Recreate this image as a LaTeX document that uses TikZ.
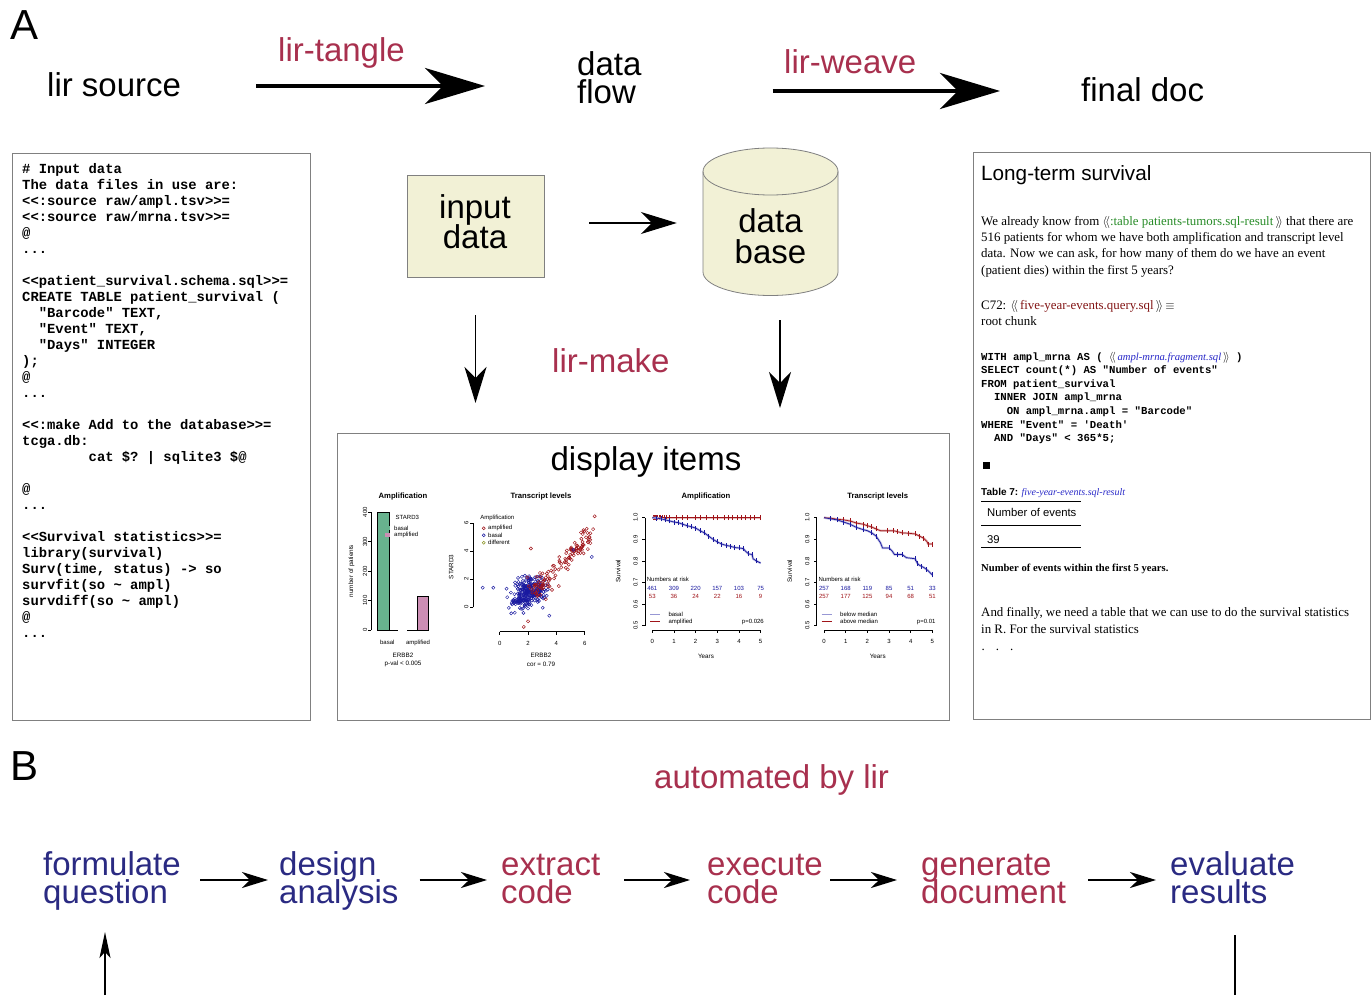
\documentclass[tikz,border=0pt]{standalone}
\usepackage{fontspec}
\setmainfont{Liberation Serif}
\setsansfont{Liberation Sans}
\setmonofont{Liberation Mono}
\usetikzlibrary{arrows.meta}
\definecolor{lirred}{RGB}{168,48,78}
\definecolor{lirblue}{RGB}{42,42,130}
\definecolor{beige}{RGB}{242,241,214}
\definecolor{framegray}{RGB}{128,128,128}
\definecolor{bargreen}{RGB}{104,178,142}
\definecolor{barpink}{RGB}{204,142,180}
\definecolor{pred}{RGB}{160,20,25}
\definecolor{pblue}{RGB}{25,25,160}
\definecolor{polive}{RGB}{140,150,40}
\definecolor{docgreen}{RGB}{40,140,40}
\definecolor{docred}{RGB}{130,20,20}
\definecolor{docblue}{RGB}{40,40,200}
\newcommand\setfs[2]{\fontsize{#1}{#2}\selectfont\lineskiplimit=-100pt\relax}
\newcommand\dlb{\ensuremath{\langle\!\langle}}
\newcommand\drb{\ensuremath{\rangle\!\rangle}}
\newcommand\ctrline[1]{\hbox to 0pt{\hss#1\hss}}
\begin{document}
\begin{tikzpicture}[x=1pt,y=-1pt,
  bigtxt/.style={font=\sffamily\setfs{33}{28}, inner sep=0, anchor=base west},
  boxframe/.style={draw=framegray, line width=1.1pt, inner sep=0, anchor=north west},
  bigarr/.style={line width=4pt, -{Stealth[length=60pt,width=36pt,inset=18pt]}},
  midarr/.style={line width=2pt, -{Stealth[length=36pt,width=22pt,inset=11pt]}},
  steparr/.style={line width=2pt, -{Stealth[length=26pt,width=16pt,inset=8pt]}},
  looparr/.style={line width=1.5pt, -{Stealth[length=26pt,width=11pt,inset=6pt]}},
  ptitle/.style={font=\sffamily\bfseries\setfs{7.7}{8}, inner sep=0},
  plab/.style={font=\sffamily\setfs{6.3}{7}, inner sep=0},
  ptick/.style={font=\sffamily\setfs{6}{7}, inner sep=0},
  paxis/.style={line width=0.5pt},
  doctxt/.style={anchor=base west, inner sep=0},
]
\useasboundingbox (0,0) rectangle (1372,995);
\fill[white] (0,0) rectangle (1372,995);

% ---------------- A: top row ----------------
\node[bigtxt, font=\sffamily\setfs{42}{42}] (labA) at (10,40) {A};
\node[bigtxt] (src) at (47,97) {lir source};
\node[bigtxt, text=lirred] (tangle) at (278,62) {lir-tangle};
\node[bigtxt] (flow) at (577,76) {\vtop{\hbox{data}\hbox{flow}}};
\node[bigtxt, text=lirred] (weave) at (784,74) {lir-weave};
\node[bigtxt] (final) at (1081,102) {final doc};
\draw[bigarr, shorten <=75pt, shorten >=92pt] (src.east |- 0,86) -- (flow.west |- 0,86);
\draw[bigarr, shorten <=131pt, shorten >=81pt] (flow.east |- 0,91) -- (final.west |- 0,91);

% ---------------- left code box ----------------
\node[boxframe, minimum width=298pt, minimum height=567pt] (codebox) at (12,153) {};
\node[doctxt, font=\ttfamily\bfseries\setfs{13.85}{16}] (code) at (22,173.5) {\vtop{%
\hbox{\# Input data}
\hbox{The data files in use are:}
\hbox{<<:source raw/ampl.tsv>>=}
\hbox{<<:source raw/mrna.tsv>>=}
\hbox{@}
\hbox{...}
\hbox{}
\hbox{<<patient\_survival.schema.sql>>=}
\hbox{CREATE TABLE patient\_survival (}
\hbox{\ \ "Barcode" TEXT,}
\hbox{\ \ "Event" TEXT,}
\hbox{\ \ "Days" INTEGER}
\hbox{);}
\hbox{@}
\hbox{...}
\hbox{}
\hbox{<<:make Add to the database>>=}
\hbox{tcga.db:}
\hbox{\ \ \ \ \ \ \ \ cat \$? | sqlite3 \$@}
\hbox{}
\hbox{@}
\hbox{...}
\hbox{}
\hbox{<<Survival statistics>>=}
\hbox{library(survival)}
\hbox{Surv(time, status) -> so}
\hbox{survfit(so \textasciitilde{} ampl)}
\hbox{survdiff(so \textasciitilde{} ampl)}
\hbox{@}
\hbox{...}}};

% ---------------- middle: data flow ----------------
\node[draw=framegray, fill=beige, line width=0.8pt, minimum width=137pt, minimum height=102pt, inner sep=0] (inp) at (475.5,226) {};
\node[bigtxt, anchor=base, font=\sffamily\setfs{33}{30}] (inptxt) at (475,218) {\vtop{\ctrline{input}\ctrline{data}}};
\node[minimum width=135pt, minimum height=148pt, inner sep=0] (db) at (770.5,222) {};
\filldraw[fill=beige, draw=framegray, line width=0.8pt] (703,171.5) -- (703,272)
  arc[start angle=180, end angle=360, x radius=67.5pt, y radius=23.5pt] -- (838,171.5)
  arc[start angle=0, end angle=180, x radius=67.5pt, y radius=23.5pt] -- cycle;
\draw[framegray, line width=0.8pt] (703,171.5) arc[start angle=180, end angle=360, x radius=67.5pt, y radius=23.5pt];
\node[bigtxt, anchor=base, font=\sffamily\setfs{33}{31}] (dbtxt) at (770.5,232) {\vtop{\ctrline{data}\ctrline{base}}};
\draw[midarr, shorten <=45pt, shorten >=26pt] (inp.east |- 0,223) -- (db.west |- 0,223);
\node[bigtxt, text=lirred] (make) at (552,372) {lir-make};

% display box
\node[boxframe, minimum width=612pt, minimum height=287pt] (disp) at (337,433) {};
\node[bigtxt, anchor=base] (dispt) at (646,470) {display items};
\draw[midarr, line width=1.7pt, shorten <=38pt, shorten >=30pt] (inp.south) -- (inp.south |- disp.north);
\draw[midarr, line width=1.7pt, shorten <=24pt, shorten >=25pt] (db.south -| 780,0) -- (disp.north -| 780,0);

% ---- plot 1: bar chart ----
\node[ptitle] (pat) at (403,496.7) {Amplification};
\draw[paxis] (371,630) -- (371,512.3);
\foreach \v/\yy in {0/630,100/600.6,200/571.2,300/541.7,400/512.3}{
  \draw[paxis] (371,\yy) -- (368,\yy);
  \node[ptick, rotate=90] (pay\v) at (365,\yy) {\v};
}
\node[plab, rotate=90] (payl) at (351.5,571) {number of patients};
\filldraw[fill=bargreen, draw=black, line width=0.5pt] (377,630) rectangle (389,512.3);
\draw[line width=0.5pt] (389,630) -- (398,630);
\draw[line width=0.5pt] (407,630) -- (417,630);
\filldraw[fill=barpink, draw=black, line width=0.5pt] (417,630) rectangle (428,596.3);
\node[ptick] (pab1) at (387.3,642.7) {basal};
\node[ptick] (pab2) at (418,642.7) {amplified};
\node[plab] (pax1) at (403,655.7) {ERBB2};
\node[plab] (pax2) at (403,664.3) {p-val < 0.005};
\node[ptick] (pal0) at (407.3,517.7) {STARD3};
\fill[bargreen] (384.5,526.3) rectangle (389.5,530.3);
\node[ptick, anchor=west] (pal1) at (394,528.3) {basal};
\fill[barpink] (384.5,533) rectangle (389.5,537);
\node[ptick, anchor=west] (pal2) at (394,535) {amplified};

% ---- plot 2: scatter ----
\node[ptitle] (pbt) at (541,496.7) {Transcript levels};
\draw[paxis] (473,607.3) -- (473,523.3);
\foreach \v/\yy in {0/607.3,2/579.3,4/551.3,6/523.3}{
  \draw[paxis] (473,\yy) -- (470,\yy);
  \node[ptick, rotate=90] (pby\v) at (466.3,\yy) {\v};
}
\node[plab, rotate=90] (pbyl) at (451.3,567) {STARD3};
\draw[paxis] (499.7,631.7) -- (584.7,631.7);
\foreach \v/\xx in {0/499.7,2/528,4/556.4,6/584.7}{
  \draw[paxis] (\xx,631.7) -- (\xx,634.7);
  \node[ptick] (pbx\v) at (\xx,643.3) {\v};
}
\node[plab] (pbxl) at (541,655.7) {ERBB2};
\node[plab] (pbxl2) at (541,664.3) {cor = 0.79};
\node[ptick] (pbl0) at (497.3,518.3) {Amplification};
\draw[pred, line width=0.5pt] (483.7,528.3) circle[radius=1.5pt];
\node[ptick, anchor=west] (pbl1) at (488,528.3) {amplified};
\draw[pblue, line width=0.5pt] (483.7,535.3) circle[radius=1.5pt];
\node[ptick, anchor=west] (pbl2) at (488,535.3) {basal};
\draw[polive, line width=0.5pt] (483.7,542.7) circle[radius=1.5pt];
\node[ptick, anchor=west] (pbl3) at (488,542.7) {different};
\begin{scope}[shift={(499.7pt,-607.3pt)}, x=14.17pt, y=14pt]
  \pgfmathsetseed{4242}
  \foreach \i in {1,...,250}{
    \pgfmathsetmacro\X{2.0+0.62*(rand+rand+rand)}
    \pgfmathsetmacro\Y{0.35+0.33*\X+0.55*(rand+rand+rand)}
    \draw[pblue, line width=0.45pt] (\X,\Y) circle[radius=1.6pt];
  }
  \foreach \i in {1,...,55}{
    \pgfmathsetmacro\X{3.0+0.5*(rand+rand+rand)}
    \pgfmathsetmacro\Y{0.3+0.45*\X+0.5*(rand+rand+rand)}
    \draw[pred, line width=0.45pt] (\X,\Y) circle[radius=1.6pt];
  }
  \foreach \i in {1,...,70}{
    \pgfmathsetmacro\X{5.4+0.8*(rand+rand)}
    \pgfmathsetmacro\Y{-1.0+0.95*\X+0.5*(rand+rand)}
    \draw[pred, line width=0.45pt] (\X,\Y) circle[radius=1.6pt];
  }
  \foreach \X/\Y in {-1.2/1.4,-0.45/1.4,5.2/4.1,6.5/3.6,3.5/-0.6}{
    \draw[pblue, line width=0.45pt] (\X,\Y) circle[radius=1.6pt];
  }
  \foreach \X/\Y in {2.2/4.2,1.7/-1.4,2.0/-1.0,6.7/6.5}{
    \draw[pred, line width=0.45pt] (\X,\Y) circle[radius=1.6pt];
  }
\end{scope}

% ---- plots 3 and 4: survival curves (common frame) ----
\foreach \off/\nm/\ttl/\pv in {0/c/Amplification/p=0.026, 171.7/d/Transcript levels/p=0.01}{
  \node[ptitle] (p\nm t) at (706+\off,496.7) {\ttl};
  \draw[paxis] (645+\off,625.7) -- (645+\off,517.7);
  \foreach \v/\yy [count=\k] in {0.5/625.7,0.6/604.1,0.7/582.5,0.8/560.9,0.9/539.3,1.0/517.7}{
    \draw[paxis] (645+\off,\yy) -- (642+\off,\yy);
    \node[ptick, rotate=90] (p\nm y\k) at (635.5+\off,\yy) {\v};
  }
  \node[plab, rotate=90] (p\nm yl) at (618+\off,571) {Survival};
  \draw[paxis] (652.3+\off,630) -- (760.7+\off,630);
  \foreach \k in {0,...,5}{
    \draw[paxis] (652.3+\off+21.67*\k,630) -- (652.3+\off+21.67*\k,633);
    \node[ptick] (p\nm x\k) at (652.3+\off+21.67*\k,641) {\k};
  }
  \node[plab] (p\nm xl) at (706+\off,656.7) {Years};
  \node[ptick, anchor=west] (p\nm risk) at (646.7+\off,579) {Numbers at risk};
  \draw[pblue!45, line width=0.8pt] (650+\off,614.3) -- (660+\off,614.3);
  \draw[pred, line width=0.8pt] (650+\off,621.7) -- (660+\off,621.7);
  \node[ptick, anchor=east] (p\nm p) at (764+\off,621.7) {\pv};
}
\node[ptick, anchor=west] (pcl1) at (668.3,614.3) {basal};
\node[ptick, anchor=west] (pcl2) at (668.3,621.7) {amplified};
\node[ptick, anchor=west] (pdl1) at (840,614.3) {below median};
\node[ptick, anchor=west] (pdl2) at (840,621.7) {above median};
\foreach \n [count=\k from 0] in {461,309,220,157,103,75}{
  \node[ptick, text=pblue] (pcb\k) at (652.3+21.67*\k,588.3) {\n};}
\foreach \n [count=\k from 0] in {53,36,24,22,16,9}{
  \node[ptick, text=pred] (pcr\k) at (652.3+21.67*\k,596.7) {\n};}
\foreach \n [count=\k from 0] in {257,168,119,85,51,33}{
  \node[ptick, text=pblue] (pdb\k) at (824+21.67*\k,588.3) {\n};}
\foreach \n [count=\k from 0] in {257,177,125,94,68,51}{
  \node[ptick, text=pred] (pdr\k) at (824+21.67*\k,596.7) {\n};}

\begin{scope}[shift={(652.3pt,-733.7pt)}, x=21.67pt, y=216pt]
  \draw[pred!30, line width=2.2pt] (0,1) -- (5,1);
  \draw[pred, line width=0.6pt] (0,1) -- (5,1);
  \foreach \t in {0.05,0.1,0.15,0.2,0.25,0.3,0.35,0.45,0.55,0.65,0.8,1.1,1.4,1.6,2.0,2.2,2.5,2.8,3.0,3.3,3.5,3.7,3.9,4.1,4.3,4.5,4.7,5.0}{
    \draw[pred, line width=0.5pt] (\t,1) +(0pt,-2.5pt) -- +(0pt,2.5pt);}
  \def\curveC{(0,1) (0.2,0.998) (0.4,0.995) (0.6,0.99) (0.8,0.985) (1.0,0.98) (1.2,0.977) (1.4,0.97) (1.6,0.963) (1.8,0.958) (2.0,0.952) (2.2,0.94) (2.4,0.93) (2.6,0.915) (2.8,0.9) (3.0,0.888) (3.2,0.878) (3.4,0.872) (3.6,0.868) (3.8,0.862) (4.0,0.86) (4.2,0.857) (4.3,0.845) (4.45,0.832) (4.6,0.83) (4.65,0.81) (4.8,0.8) (5.0,0.79)}
  \draw[pblue!30, line width=2.2pt] plot coordinates {\curveC};
  \draw[pblue, line width=0.7pt] plot coordinates {\curveC};
  \foreach \t/\s in {0.2/0.998,0.4/0.995,0.6/0.99,0.8/0.985,1.0/0.98,1.2/0.977,1.4/0.97,1.6/0.963,1.8/0.958,2.0/0.952,2.2/0.94,2.4/0.93,2.6/0.915,2.8/0.9,3.0/0.888,3.2/0.878,3.4/0.872,3.6/0.868,3.8/0.862,4.0/0.86,4.2/0.857,4.45/0.832,4.6/0.83,4.8/0.8}{
    \draw[pblue, line width=0.5pt] (\t,\s) +(0pt,-2.5pt) -- +(0pt,2.5pt);}
\end{scope}

\begin{scope}[shift={(824pt,-733.7pt)}, x=21.67pt, y=216pt]
  \def\curveDr{(0,1) (0.3,0.998) (0.6,0.993) (0.9,0.99) (1.2,0.985) (1.5,0.975) (1.8,0.97) (2.0,0.963) (2.2,0.957) (2.4,0.948) (2.6,0.94) (2.9,0.94) (3.2,0.94) (3.4,0.935) (3.6,0.93) (3.9,0.928) (4.2,0.925) (4.4,0.915) (4.6,0.905) (4.75,0.89) (4.8,0.878) (5.0,0.878)}
  \def\curveDb{(0,1) (0.3,0.995) (0.6,0.99) (0.9,0.98) (1.2,0.97) (1.5,0.955) (1.8,0.945) (2.0,0.94) (2.2,0.93) (2.4,0.915) (2.5,0.9) (2.6,0.885) (2.7,0.86) (3.0,0.86) (3.15,0.845) (3.25,0.83) (3.6,0.83) (3.8,0.815) (4.2,0.81) (4.3,0.79) (4.4,0.78) (4.6,0.77) (4.8,0.755) (5.0,0.735)}
  \draw[pred!30, line width=2.2pt] plot coordinates {\curveDr};
  \draw[pblue!30, line width=2.2pt] plot coordinates {\curveDb};
  \draw[pred, line width=0.7pt] plot coordinates {\curveDr};
  \draw[pblue, line width=0.7pt] plot coordinates {\curveDb};
  \foreach \t/\s in {0.3/0.998,0.6/0.993,0.9/0.99,1.2/0.985,1.5/0.975,1.8/0.97,2.0/0.963,2.2/0.957,2.4/0.948,2.9/0.94,3.2/0.94,3.4/0.935,3.6/0.93,3.9/0.928,4.2/0.925,4.4/0.915,4.6/0.905,4.8/0.878,5.0/0.878}{
    \draw[pred, line width=0.5pt] (\t,\s) +(0pt,-2.5pt) -- +(0pt,2.5pt);}
  \foreach \t/\s in {0.3/0.995,0.6/0.99,0.9/0.98,1.2/0.97,1.5/0.955,1.8/0.945,2.2/0.93,2.4/0.915,3.0/0.86,3.4/0.83,3.6/0.83,4.2/0.81,4.3/0.79,4.5/0.775,4.7/0.762,5.0/0.735}{
    \draw[pblue, line width=0.5pt] (\t,\s) +(0pt,-2.5pt) -- +(0pt,2.5pt);}
\end{scope}

% ---------------- right: final doc ----------------
\node[boxframe, minimum width=397pt, minimum height=567pt] (docbox) at (973,152) {};
\node[doctxt, font=\sffamily\setfs{20.7}{22}] (dhead) at (981,180) {Long-term survival};
\node[doctxt, font=\rmfamily\setfs{12.9}{16.4}] (dpara) at (981,225) {\vtop{%
\hbox{We already know from \dlb\textcolor{docgreen}{:table patients-tumors.sql-result}\,\drb{} that there are}
\hbox{516 patients for whom we have both amplification and transcript level}
\hbox{data. Now we can ask, for how many of them do we have an event}
\hbox{(patient dies) within the first 5 years?}}};
\node[doctxt, font=\rmfamily\setfs{12.9}{16.4}] (dchunk) at (981,309) {\vtop{%
\hbox{C72: \dlb\,\textcolor{docred}{five-year-events.query.sql}\,\drb\,$\equiv$}
\hbox{root chunk}}};
\node[doctxt, font=\ttfamily\bfseries\setfs{10.66}{13.6}] (dsql) at (981,360) {\vtop{%
\hbox{WITH ampl\_mrna AS ( \dlb\,\textcolor{docblue}{\rmfamily\mdseries\itshape ampl-mrna.fragment.sql}\,\drb{} )}
\hbox{SELECT count(*) AS "Number of events"}
\hbox{FROM patient\_survival}
\hbox{\ \ INNER JOIN ampl\_mrna}
\hbox{\ \ \ \ ON ampl\_mrna.ampl = "Barcode"}
\hbox{WHERE "Event" = 'Death'}
\hbox{\ \ AND "Days" < 365*5;}}};
\node[fill=black, minimum size=7pt, inner sep=0] (dqed) at (986.5,465.5) {};
\node[doctxt, font=\setfs{10}{11}] (dtab) at (981,495) {{\sffamily\bfseries Table 7:} \textcolor{docblue}{\rmfamily\itshape five-year-events.sql-result}};
\draw[line width=0.8pt] (981,501) -- (1081,501);
\node[doctxt, font=\sffamily\setfs{11.3}{12}] (dth) at (987,516.5) {Number of events};
\draw[line width=0.8pt] (981,525.7) -- (1081,525.7);
\node[doctxt, font=\sffamily\setfs{11.3}{12}] (dtv) at (987,543) {39};
\draw[line width=0.8pt] (981,547.7) -- (1081,547.7);
\node[doctxt, font=\rmfamily\bfseries\setfs{10.6}{11}] (dcap) at (981,571) {Number of events within the first 5 years.};
\node[doctxt, font=\rmfamily\setfs{12.9}{16.5}] (dfin) at (981,616.5) {\vtop{%
\hbox{And finally, we need a table that we can use to do the survival statistics}
\hbox{in R. For the survival statistics}}};
\node[doctxt, font=\rmfamily\setfs{12.9}{14}] (ddots) at (981.5,650) {.\hspace{11pt}.\hspace{11pt}.};

% ---------------- B ----------------
\node[bigtxt, font=\sffamily\setfs{42}{42}] (labB) at (10,780) {B};
\node[bigtxt, text=lirred] (auto) at (654,788) {automated by lir};
\node[bigtxt, text=lirblue] (q1) at (43,875) {\vtop{\hbox{formulate}\hbox{question}}};
\node[bigtxt, text=lirblue] (q2) at (279,875) {\vtop{\hbox{design}\hbox{analysis}}};
\node[bigtxt, text=lirred] (q3) at (501,875) {\vtop{\hbox{extract}\hbox{code}}};
\node[bigtxt, text=lirred] (q4) at (707,875) {\vtop{\hbox{execute}\hbox{code}}};
\node[bigtxt, text=lirred] (q5) at (921,875) {\vtop{\hbox{generate}\hbox{document}}};
\node[bigtxt, text=lirblue] (q6) at (1170,875) {\vtop{\hbox{evaluate}\hbox{results}}};
\draw[steparr, shorten <=19.5pt, shorten >=11pt] (q1.east |- 0,880) -- (q2.west |- 0,880);
\draw[steparr, shorten <=21pt, shorten >=14pt] (q2.east |- 0,880) -- (q3.west |- 0,880);
\draw[steparr, shorten <=24pt, shorten >=17pt] (q3.east |- 0,880) -- (q4.west |- 0,880);
\draw[steparr, shorten <=7.4pt, shorten >=24pt] (q4.east |- 0,880) -- (q5.west |- 0,880);
\draw[steparr, shorten <=22pt, shorten >=14pt] (q5.east |- 0,880) -- (q6.west |- 0,880);
\coordinate (loopL) at (105,995);
\coordinate (loopLtip) at (105,932);
\draw[looparr] (loopL) -- (loopLtip);
\coordinate (loopR) at (1235,935);
\coordinate (loopRend) at (1235,995);
\draw[line width=1.5pt] (loopR) -- (loopRend);
\end{tikzpicture}
\end{document}
